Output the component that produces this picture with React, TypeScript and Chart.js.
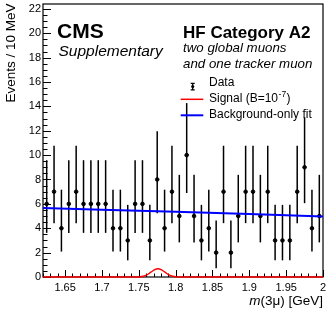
import React, { useEffect, useRef } from 'react';
import { Chart, registerables } from 'chart.js';

Chart.register(...registerables);

// ---- data ----
const binCenters = [
  1.625, 1.635, 1.645, 1.655, 1.665, 1.675, 1.685, 1.695, 1.705, 1.715,
  1.725, 1.735, 1.745, 1.755, 1.765, 1.775, 1.785, 1.795, 1.805, 1.815,
  1.825, 1.835, 1.845, 1.855, 1.865, 1.875, 1.885, 1.895, 1.905, 1.915,
  1.925, 1.935, 1.945, 1.955, 1.965, 1.975, 1.985, 1.995,
];
const counts = [
  6, 7, 4, 6, 7, 6, 6, 6, 6, 4,
  4, 3, 6, 6, 3, 8, 4, 7, 5, 10,
  5, 3, 4, 2, 7, 2, 5, 7, 7, 5,
  7, 3, 3, 3, 7, 9, 4, 5,
];
// 68% Poisson interval bounds, indexed by count
const poissonLo = [0, 0.173, 0.708, 1.367, 2.086, 2.84, 3.62, 4.419, 5.232, 6.057, 6.891];
const poissonHi = [1.841, 3.3, 4.638, 5.918, 7.163, 8.382, 9.584, 10.77, 11.95, 13.11, 14.27];

const signalX = [1.62, 1.745, 1.751, 1.756, 1.761, 1.766, 1.771, 1.776, 1.781, 1.786, 1.791, 1.796, 1.801, 1.806, 2.0];
const signalY = [0, 0, 0.01, 0.06, 0.17, 0.37, 0.58, 0.68, 0.58, 0.37, 0.17, 0.06, 0.01, 0, 0];

const bkgX = [1.62, 1.7, 1.8, 1.9, 2.0];
const bkgY = [5.66, 5.52, 5.35, 5.16, 4.96];

const X_MIN = 1.62;
const X_MAX = 2.0;
const Y_MIN = 0;
const Y_MAX = 22.4;

const FONT = '"Liberation Sans", Arial, Helvetica, sans-serif';

const decorPlugin = {
  id: 'decor',
  beforeDatasetsDraw(chart: any) {
    const { ctx, chartArea: a, scales } = chart;
    const x = scales.x;
    const y = scales.y;
    ctx.save();
    // frame
    ctx.strokeStyle = '#000';
    ctx.lineWidth = 1.2;
    ctx.strokeRect(a.left, a.top, a.right - a.left, a.bottom - a.top);
    // inward ticks on y
    ctx.lineWidth = 1;
    for (let i = 0; i <= 44; i++) {
      const v = i * 0.5;
      const py = Math.round(y.getPixelForValue(v)) + 0.5;
      const len = i % 4 === 0 ? 8 : 4.5;
      ctx.beginPath();
      ctx.moveTo(a.left, py);
      ctx.lineTo(a.left + len, py);
      ctx.stroke();
    }
    // inward ticks on x
    for (let i = 0; i <= 38; i++) {
      const v = X_MIN + i * 0.01;
      const px = Math.round(x.getPixelForValue(v)) + 0.5;
      const major = (i + 2) % 5 === 0;
      const len = major ? 7 : 3.5;
      ctx.beginPath();
      ctx.moveTo(px, a.bottom);
      ctx.lineTo(px, a.bottom - len);
      ctx.stroke();
    }
    // error bars
    ctx.lineWidth = 1.5;
    ctx.strokeStyle = '#000';
    binCenters.forEach((c, i) => {
      const n = counts[i];
      const px = x.getPixelForValue(c);
      ctx.beginPath();
      ctx.moveTo(px, y.getPixelForValue(poissonLo[n]));
      ctx.lineTo(px, y.getPixelForValue(poissonHi[n]));
      ctx.stroke();
    });
    ctx.restore();
  },
  afterDraw(chart: any) {
    const { ctx } = chart;
    ctx.save();
    ctx.fillStyle = '#000';
    ctx.textBaseline = 'alphabetic';
    ctx.textAlign = 'left';

    ctx.font = `bold 21px ${FONT}`;
    ctx.fillText('CMS', 57, 37.5);
    ctx.font = `italic 15.5px ${FONT}`;
    ctx.fillText('Supplementary', 58.5, 55.5);

    ctx.font = `bold 17px ${FONT}`;
    ctx.fillText('HF Category A2', 183, 37.5);
    ctx.font = `italic 13.3px ${FONT}`;
    ctx.fillText('two global muons', 183, 51.7);
    ctx.fillText('and one tracker muon', 183, 68.3);

    // legend
    ctx.font = `12px ${FONT}`;
    ctx.fillText('Data', 209, 86);
    const sigText = 'Signal (B=10';
    ctx.fillText(sigText, 209, 102);
    const w1 = ctx.measureText(sigText).width;
    ctx.font = `8.5px ${FONT}`;
    ctx.fillText('-7', 209 + w1 + 0.5, 97);
    const w2 = ctx.measureText('-7').width;
    ctx.font = `12px ${FONT}`;
    ctx.fillText(')', 209 + w1 + w2 + 1, 102);
    ctx.fillText('Background-only fit', 209, 118.3);

    // legend symbols
    ctx.strokeStyle = '#000';
    ctx.lineWidth = 1.3;
    ctx.beginPath();
    ctx.moveTo(192.7, 83.3);
    ctx.lineTo(192.7, 89.8);
    ctx.moveTo(190.7, 83.3);
    ctx.lineTo(194.7, 83.3);
    ctx.moveTo(190.7, 89.8);
    ctx.lineTo(194.7, 89.8);
    ctx.stroke();
    ctx.beginPath();
    ctx.arc(192.7, 86.5, 1.6, 0, Math.PI * 2);
    ctx.fill();

    ctx.strokeStyle = '#ff0000';
    ctx.lineWidth = 1.5;
    ctx.beginPath();
    ctx.moveTo(180.7, 99.3);
    ctx.lineTo(203.3, 99.3);
    ctx.stroke();
    ctx.strokeStyle = '#0000ff';
    ctx.lineWidth = 2;
    ctx.beginPath();
    ctx.moveTo(180.7, 115.3);
    ctx.lineTo(203.3, 115.3);
    ctx.stroke();

    // y axis title
    ctx.save();
    ctx.translate(14.5, 3.5);
    ctx.rotate(-Math.PI / 2);
    ctx.textAlign = 'right';
    ctx.font = `13.5px ${FONT}`;
    ctx.fillText('Events / 10 MeV', 0, 0);
    ctx.restore();

    // x axis title: italic m, rest upright, right aligned at plot edge
    const right = chart.chartArea.right;
    ctx.font = `13.5px ${FONT}`;
    const rest = '(3μ) [GeV]';
    const wRest = ctx.measureText(rest).width;
    ctx.font = `italic 13.5px ${FONT}`;
    const wM = ctx.measureText('m').width;
    const start = right - wRest - wM;
    ctx.fillText('m', start, 305);
    ctx.font = `13.5px ${FONT}`;
    ctx.fillText(rest, start + wM, 305);

    ctx.restore();
  },
};

export default function App() {
  const ref = useRef<HTMLCanvasElement | null>(null);
  useEffect(() => {
    if (!ref.current) return;
    const chart = new Chart(ref.current, {
      type: 'scatter',
      data: {
        datasets: [
          {
            label: 'Background-only fit',
            type: 'line',
            data: bkgX.map((v, i) => ({ x: v, y: bkgY[i] })),
            borderColor: '#0000ff',
            borderWidth: 2,
            pointRadius: 0,
            fill: false,
            order: 0,
          },
          {
            label: 'Signal',
            type: 'line',
            data: signalX.map((v, i) => ({ x: v, y: signalY[i] })),
            borderColor: '#ff0000',
            borderWidth: 1.5,
            pointRadius: 0,
            fill: false,
            cubicInterpolationMode: 'monotone',
            clip: false,
            order: 1,
          },
          {
            label: 'Data',
            data: binCenters.map((v, i) => ({ x: v, y: counts[i] })),
            backgroundColor: '#000',
            borderColor: '#000',
            pointRadius: 1.8,
            pointHoverRadius: 1.8,
            order: 2,
          },
        ] as any,
      },
      options: {
        animation: false,
        responsive: false,
        devicePixelRatio: 1,
        events: [],
        layout: { padding: { top: 4, right: 3, left: 0, bottom: 0 } },
        plugins: {
          legend: { display: false },
          tooltip: { enabled: false },
          title: { display: false },
        },
        scales: {
          x: {
            type: 'linear',
            min: X_MIN,
            max: X_MAX,
            grid: { display: false, drawTicks: false },
            border: { display: false },
            ticks: {
              stepSize: 0.05,
              includeBounds: false,
              padding: 4,
              color: '#000',
              font: { family: FONT, size: 11 },
              maxRotation: 0,
              autoSkip: false,
              callback: (v: any) => String(Number(Number(v).toFixed(2))),
            },
            afterFit: (s: any) => {
              s.height = 34;
              s.paddingLeft = 0;
              s.paddingRight = 0;
            },
          },
          y: {
            type: 'linear',
            min: Y_MIN,
            max: Y_MAX,
            grid: { display: false, drawTicks: false },
            border: { display: false },
            ticks: {
              stepSize: 2,
              includeBounds: false,
              padding: 2,
              color: '#000',
              font: { family: FONT, size: 11 },
              autoSkip: false,
              callback: (v: any) => String(v),
            },
            afterFit: (s: any) => {
              s.width = 43;
              s.paddingTop = 0;
              s.paddingBottom = 0;
            },
          },
        },
      } as any,
      plugins: [decorPlugin],
    });
    return () => chart.destroy();
  }, []);
  return (
    <div style={{ position: 'absolute', left: 0, top: 0, width: 326, height: 311 }}>
      <canvas ref={ref} width={326} height={311} style={{ display: 'block', width: 326, height: 311 }} />
    </div>
  );
}
